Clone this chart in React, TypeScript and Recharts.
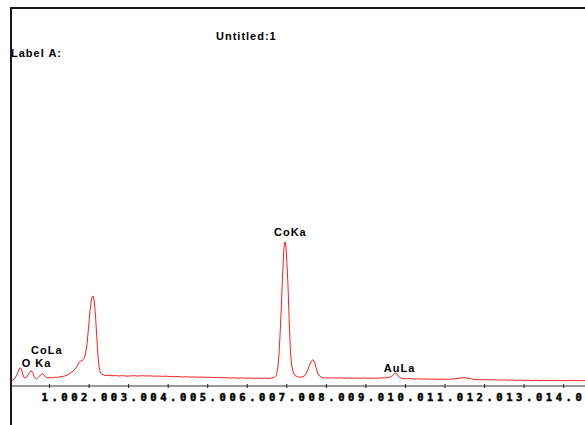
import { Line, LineChart, ReferenceDot, XAxis, YAxis } from "recharts";

// EDS spectrum: [energy keV, counts]
const spectrum: Array<[number, number]> = [
  [0.03, 50], [0.08, 62], [0.13, 80], [0.18, 115], [0.22, 160], [0.26, 182], [0.29, 170],
  [0.32, 120], [0.36, 82], [0.4, 80], [0.44, 100], [0.49, 135], [0.54, 153], [0.58, 125],
  [0.62, 85], [0.67, 70], [0.72, 88], [0.77, 110], [0.82, 125], [0.86, 108], [0.91, 88],
  [0.96, 80], [1.02, 84], [1.08, 82], [1.14, 88], [1.2, 86], [1.26, 92], [1.32, 95],
  [1.38, 100], [1.44, 108], [1.5, 122], [1.56, 140], [1.62, 160], [1.67, 182], [1.71, 210],
  [1.75, 238], [1.79, 250], [1.83, 255], [1.87, 275], [1.91, 320], [1.95, 430], [1.99, 600],
  [2.02, 740], [2.05, 840], [2.08, 895], [2.1, 900], [2.13, 850], [2.16, 720], [2.19, 520],
  [2.22, 330], [2.25, 200], [2.28, 140], [2.32, 118], [2.37, 110], [2.43, 104], [2.5, 108],
  [2.58, 102], [2.66, 105], [2.75, 100], [2.85, 104], [2.95, 98], [3.05, 101], [3.15, 103],
  [3.25, 99], [3.35, 104], [3.45, 100], [3.55, 102], [3.65, 97], [3.75, 100], [3.85, 96],
  [3.95, 99], [4.05, 94], [4.15, 92], [4.25, 95], [4.35, 90], [4.45, 93], [4.55, 89],
  [4.65, 91], [4.75, 88], [4.85, 90], [4.95, 86], [5.05, 88], [5.15, 84], [5.25, 86],
  [5.35, 82], [5.45, 84], [5.55, 80], [5.65, 82], [5.75, 79], [5.85, 81], [5.95, 78],
  [6.05, 80], [6.15, 77], [6.25, 79], [6.35, 76], [6.45, 78], [6.55, 77], [6.62, 80],
  [6.68, 85], [6.73, 105], [6.77, 170], [6.8, 300], [6.83, 520], [6.86, 780], [6.89, 1080],
  [6.92, 1330], [6.94, 1430], [6.96, 1440], [6.98, 1380], [7.0, 1250], [7.03, 1000],
  [7.06, 650], [7.09, 360], [7.12, 210], [7.16, 140], [7.21, 105], [7.27, 92], [7.34, 88],
  [7.41, 92], [7.47, 110], [7.52, 150], [7.57, 205], [7.62, 250], [7.66, 262], [7.7, 240],
  [7.74, 185], [7.78, 130], [7.83, 98], [7.89, 84], [7.96, 80], [8.05, 80], [8.15, 82],
  [8.25, 79], [8.35, 81], [8.45, 78], [8.55, 80], [8.65, 78], [8.75, 80], [8.85, 78],
  [8.95, 80], [9.05, 77], [9.15, 79], [9.25, 78], [9.35, 80], [9.45, 81], [9.55, 84],
  [9.62, 90], [9.68, 105], [9.72, 125], [9.76, 130], [9.8, 108], [9.85, 85], [9.92, 76],
  [10.0, 72], [10.1, 74], [10.2, 70], [10.3, 72], [10.4, 69], [10.5, 71], [10.6, 68],
  [10.7, 70], [10.8, 67], [10.9, 69], [11.0, 66], [11.1, 68], [11.2, 70], [11.3, 74],
  [11.4, 80], [11.48, 84], [11.56, 80], [11.65, 72], [11.75, 66], [11.85, 64], [11.95, 62],
  [12.05, 64], [12.15, 60], [12.25, 62], [12.35, 59], [12.5, 61], [12.6, 58], [12.7, 60],
  [12.8, 57], [12.9, 59], [13.0, 56], [13.1, 58], [13.2, 55], [13.3, 57], [13.4, 55],
  [13.5, 56], [13.6, 54], [13.7, 56], [13.8, 54], [13.9, 56], [14.0, 53], [14.1, 55],
  [14.2, 54], [14.3, 56], [14.4, 53], [14.5, 55], [14.56, 54]
];

const energyTicks = [1, 2, 3, 4, 5, 6, 7, 8, 9, 10, 11, 12, 13, 14];

// label anchor (centre x, baseline y) in data units
const peakLabels = [
  { name: "O Ka", keV: 0.67, counts: 190 },
  { name: "CoLa", keV: 0.93, counts: 320 },
  { name: "CoKa", keV: 7.09, counts: 1500 },
  { name: "AuLa", keV: 9.85, counts: 145 }
];

const chartTitle = "Untitled:1";
const sampleLabel = "Label A:";

const data = spectrum.map(([keV, counts]) => ({ keV, counts }));

const labelFont = "'Liberation Sans', Arial, sans-serif";
const tickFont = "'DejaVu Sans Mono', monospace";
const PITCH = 9.9;

function EnergyTick(props: any) {
  const { x, y, payload } = props;
  const intPart = String(payload.value);
  const text = `${intPart}.00`;
  const startX = x - 8 - (intPart.length - 1) * PITCH;
  return (
    <g>
      <line x1={x} x2={x} y1={y - 2} y2={y + 2} stroke="#222" />
      <rect x={startX - 1} y={y + 5} width={text.length * PITCH} height={12} fill="#fff" />
      <text
        x={startX}
        y={y + 15}
        fontFamily={tickFont}
        fontSize={10.5}
        fontWeight={700}
        letterSpacing={PITCH - 6.32}
        fill="#000"
        stroke="#000"
        strokeWidth={0.5}
      >
        {text}
      </text>
    </g>
  );
}

export default function App() {
  return (
    <div style={{ position: "fixed", left: 0, top: 0, width: 585, height: 425, background: "#fff" }}>
      <LineChart width={585} height={425} data={data} margin={{ top: 8, right: 0, left: 10, bottom: 0 }}>
        <XAxis
          dataKey="keV"
          type="number"
          domain={[0, 14.54]}
          allowDataOverflow
          ticks={energyTicks}
          interval={0}
          tickSize={0}
          tickMargin={0}
          tickLine={false}
          tick={<EnergyTick />}
          axisLine={{ stroke: "#333" }}
          height={39}
        />
        <YAxis hide type="number" domain={[0, 3780]} allowDataOverflow />
        <Line
          type="linear"
          dataKey="counts"
          stroke="#ff1f1f"
          strokeWidth={1}
          dot={false}
          isAnimationActive={false}
        />
        {peakLabels.map((p) => (
          <ReferenceDot
            key={p.name}
            x={p.keV}
            y={p.counts}
            r={0}
            shape={(s: any) => (
              <text
                x={s.cx}
                y={s.cy}
                textAnchor="middle"
                fontFamily={labelFont}
                fontSize={11}
                fontWeight={700}
                letterSpacing={1}
                fill="#000"
              >
                {p.name}
              </text>
            )}
          />
        ))}
      </LineChart>
      <svg
        width={585}
        height={425}
        style={{ position: "absolute", left: 0, top: 0, pointerEvents: "none" }}
      >
        <line x1={10} y1={8} x2={585} y2={8} stroke="#1a1a1a" strokeWidth={2} />
        <line x1={11} y1={7} x2={11} y2={425} stroke="#1a1a1a" strokeWidth={2} />
        <text x={216} y={39.5} fontFamily={labelFont} fontSize={11} fontWeight={700} letterSpacing={1} fill="#000">
          {chartTitle}
        </text>
        <text x={11} y={57} fontFamily={labelFont} fontSize={11} fontWeight={700} letterSpacing={1} fill="#000">
          {sampleLabel}
        </text>
      </svg>
    </div>
  );
}
